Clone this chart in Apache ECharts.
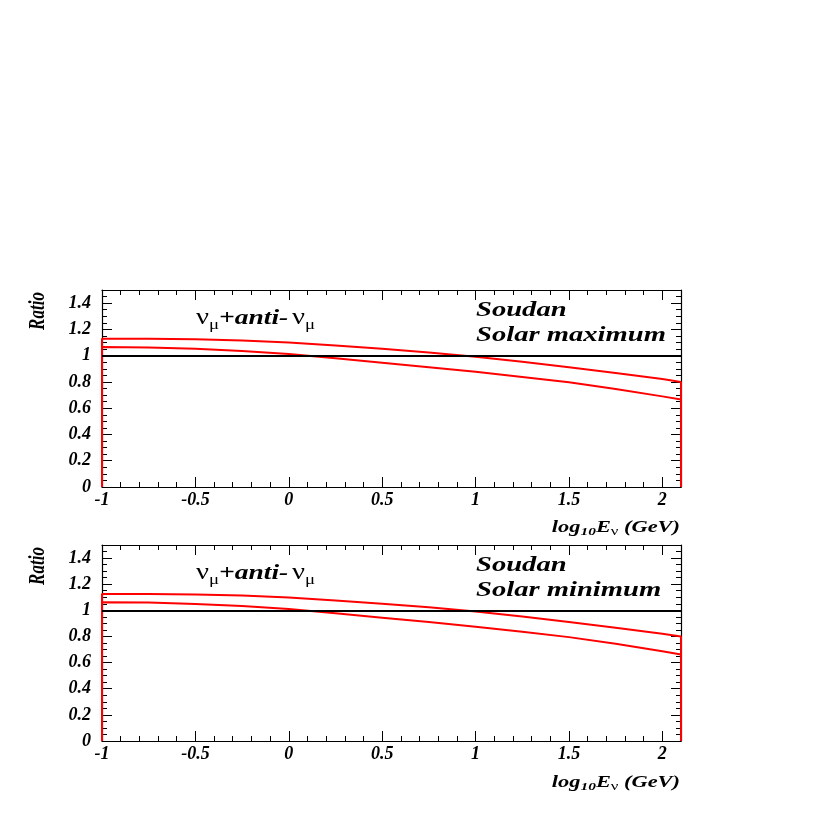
<!DOCTYPE html>
<html>
<head>
<meta charset="utf-8">
<script src="https://cdn.jsdelivr.net/npm/echarts@6/dist/echarts.min.js"></script>
<style>html,body{margin:0;padding:0;background:#fff}#c{width:817px;height:817px}</style>
</head>
<body>
<div id="c"></div>
<script>
// ---- data ----
const xs = [-1, -0.75, -0.5, -0.25, 0, 0.25, 0.5, 0.75, 1, 1.25, 1.5, 1.75, 2, 2.1];
const maxUpper = [1.128, 1.128, 1.125, 1.115, 1.100, 1.078, 1.052, 1.025, 0.992, 0.953, 0.912, 0.868, 0.822, 0.800];
const maxLower = [1.066, 1.062, 1.052, 1.036, 1.012, 0.980, 0.946, 0.912, 0.877, 0.838, 0.797, 0.747, 0.690, 0.667];
const minUpper = [1.125, 1.125, 1.122, 1.113, 1.098, 1.076, 1.050, 1.023, 0.991, 0.952, 0.911, 0.866, 0.820, 0.800];
const minLower = [1.062, 1.059, 1.049, 1.034, 1.010, 0.978, 0.944, 0.910, 0.875, 0.836, 0.795, 0.744, 0.687, 0.662];
const xMin = -1, xMax = 2.1, yMin = 0, yMax = 1.5;
const histBase = 0;        // histogram outline drops to 0 at both edges
const unity = 1;           // reference line
const panelTitles = ['Solar maximum', 'Solar minimum'];
const siteName = 'Soudan';
const yTitle = 'Ratio';

// ---- chart ----
const chart = echarts.init(document.getElementById('c'), null, {renderer: 'canvas'});
const FONT = '"Liberation Serif", "Times New Roman", serif';
const lab = {color: '#000', fontFamily: FONT, fontStyle: 'italic', fontWeight: 'bold', fontSize: 18};

const grids = [
  {left: 102, right: 136, top: 290, height: 197},
  {left: 102, right: 136, top: 545, height: 196}
];

const frameLine = {show: true, onZero: false, lineStyle: {color: '#000', width: 1.2}};
const noLine = {show: false, onZero: false};
const majorTick = {show: true, inside: true, length: 10, lineStyle: {color: '#000'}};
const minorTick = {show: true, inside: true, length: 5, lineStyle: {color: '#000'}};

function xAxes(g) {
  const base = {gridIndex: g, type: 'value', min: xMin, max: xMax, splitLine: {show: false}};
  return [
    Object.assign({}, base, {position: 'bottom', interval: 0.5, axisLine: frameLine, axisTick: majorTick,
      axisLabel: Object.assign({margin: 4, formatter: v => (Math.abs(v - xMax) < 1e-9 ? '' : String(v))}, lab)}),
    Object.assign({}, base, {position: 'bottom', interval: 0.1, axisLine: noLine, axisTick: minorTick, axisLabel: {show: false}}),
    Object.assign({}, base, {position: 'top', interval: 0.5, axisLine: frameLine, axisTick: majorTick, axisLabel: {show: false}}),
    Object.assign({}, base, {position: 'top', interval: 0.1, axisLine: noLine, axisTick: minorTick, axisLabel: {show: false}})
  ];
}
function yAxes(g) {
  const base = {gridIndex: g, type: 'value', min: yMin, max: yMax, splitLine: {show: false}};
  return [
    Object.assign({}, base, {position: 'left', interval: 0.2, axisLine: frameLine, axisTick: majorTick,
      axisLabel: Object.assign({margin: 11, formatter: v => (Math.abs(v - yMax) < 1e-9 ? '' : String(+v.toFixed(1)))}, lab)}),
    Object.assign({}, base, {position: 'left', interval: 0.05, axisLine: noLine, axisTick: minorTick, axisLabel: {show: false}}),
    Object.assign({}, base, {position: 'right', interval: 0.2, axisLine: frameLine, axisTick: majorTick, axisLabel: {show: false}}),
    Object.assign({}, base, {position: 'right', interval: 0.05, axisLine: noLine, axisTick: minorTick, axisLabel: {show: false}})
  ];
}

function outline(ys) {
  return [[xMin, histBase]].concat(xs.map((x, i) => [x, ys[i]]), [[xMax, histBase]]);
}
function curveSeries(ys, g, withUnity) {
  const s = {
    type: 'line', xAxisIndex: g * 4, yAxisIndex: g * 4, data: outline(ys),
    symbol: 'none', smooth: false, z: 3,
    lineStyle: {color: '#ff0000', width: 2}
  };
  if (withUnity) {
    s.markLine = {silent: true, symbol: 'none', label: {show: false},
      lineStyle: {color: '#000', width: 2, type: 'solid'}, data: [{yAxis: unity}]};
  }
  return s;
}

const series = [
  curveSeries(maxUpper, 0, true), curveSeries(maxLower, 0, false),
  curveSeries(minUpper, 1, true), curveSeries(minLower, 1, false)
];

const textBold = {fontFamily: FONT, fontStyle: 'italic', fontWeight: 'bold'};
const graphic = [];
[0, 255].forEach((dy, p) => {
  graphic.push({type: 'text', x: 38, y: 311 + dy, rotation: Math.PI / 2, scaleY: 1.3,
    style: Object.assign({text: yTitle, fontSize: 17, fill: '#000', align: 'center', verticalAlign: 'middle'}, textBold)});
  graphic.push({type: 'text', x: 196, y: 318 + dy, scaleX: 1.25,
    style: {
      text: '{g|ν}{s|μ}{n|+anti-}{h|ν}{s|μ}', align: 'left', verticalAlign: 'middle', fill: '#000',
      rich: {
        g: {fontFamily: FONT, fontSize: 23, lineHeight: 30, verticalAlign: 'middle', fill: '#000'},
        h: {fontFamily: FONT, fontSize: 23, lineHeight: 30, verticalAlign: 'middle', fill: '#000', padding: [0, 0, 0, 3]},
        s: {fontFamily: FONT, fontSize: 15, lineHeight: 14, verticalAlign: 'bottom', fill: '#000'},
        n: Object.assign({fontSize: 22, lineHeight: 30, verticalAlign: 'middle', fill: '#000'}, textBold)
      }
    }});
  graphic.push({type: 'text', x: 476, y: 310 + dy, scaleX: 1.3,
    style: Object.assign({text: siteName, fontSize: 22, fill: '#000', align: 'left', verticalAlign: 'middle'}, textBold)});
  graphic.push({type: 'text', x: 476, y: 335 + dy, scaleX: 1.3,
    style: Object.assign({text: panelTitles[p], fontSize: 22, fill: '#000', align: 'left', verticalAlign: 'middle'}, textBold)});
  graphic.push({type: 'text', x: 680, y: 528 + dy, scaleX: 1.4,
    style: {
      text: '{n|log}{s|10}{n|E}{g|ν}{n| (GeV)}', align: 'right', verticalAlign: 'middle', fill: '#000',
      rich: {
        n: Object.assign({fontSize: 16, lineHeight: 20, verticalAlign: 'middle', fill: '#000'}, textBold),
        s: Object.assign({fontSize: 11, lineHeight: 12, verticalAlign: 'bottom', fill: '#000'}, textBold),
        g: {fontFamily: FONT, fontSize: 12, lineHeight: 12, verticalAlign: 'bottom', fill: '#000'}
      }
    }});
});

chart.setOption({
  animation: false,
  backgroundColor: '#fff',
  grid: grids,
  xAxis: xAxes(0).concat(xAxes(1)),
  yAxis: yAxes(0).concat(yAxes(1)),
  series: series,
  graphic: graphic
});
</script>
</body>
</html>
